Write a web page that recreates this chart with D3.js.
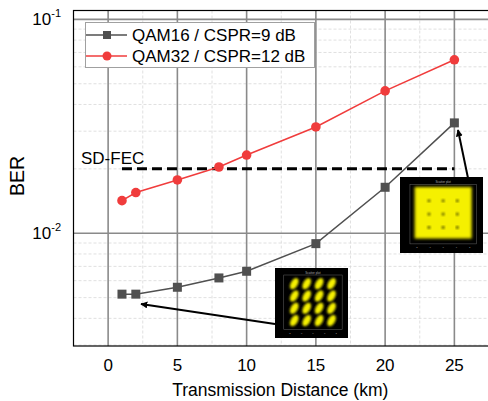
<!DOCTYPE html>
<html>
<head>
<meta charset="utf-8">
<script src="https://cdn.jsdelivr.net/npm/d3@7"></script>
<style>
  body { margin: 0; background: #fff; }
  svg { display: block; font-family: Arial, "Liberation Sans", sans-serif; }
</style>
</head>
<body>
<div id="chart"></div>
<script>
// distances (km)
const distances = [1, 2, 5, 8, 10, 15, 20, 25];
// BER values
const berQam16 = [0.00519, 0.00519, 0.00559, 0.00618, 0.00664, 0.00894, 0.0164, 0.0328];
const berQam32 = [0.0142, 0.0155, 0.01775, 0.0204, 0.0232, 0.0314, 0.0463, 0.0647];
const seriesNames = ['QAM16 / CSPR=9 dB', 'QAM32 / CSPR=12 dB'];
const xTicks = [0, 5, 10, 15, 20, 25];
const fecLevel = 0.02;
const fecRange = [1, 25];

const width = 488, height = 401;
const margin = { left: 73.5, top: 10.5, right: -1, bottom: 55 };

const svg = d3.select('#chart').append('svg')
    .attr('width', width)
    .attr('height', height);

const x = d3.scaleLinear()
    .domain([-2.5, 27.5])
    .range([margin.left, width - margin.right]);

const y = d3.scaleLog()
    .domain([0.00297, 0.11])
    .range([height - margin.bottom, margin.top]);

const plotTop = margin.top, plotBottom = height - margin.bottom;

// minor grid (dashed)
const minorX = d3.range(-2.5, 28, 5);
svg.append('g')
    .selectAll('line')
    .data(minorX)
    .join('line')
    .attr('x1', d => x(d)).attr('x2', d => x(d))
    .attr('y1', plotTop).attr('y2', plotBottom)
    .attr('stroke', '#d8d8d8')
    .attr('stroke-dasharray', '3,2')
    .attr('stroke-width', 0.8);

const minorY = [3, 4, 5, 6, 7, 8, 9].map(d => d * 1e-3)
    .concat([2, 3, 4, 5, 6, 7, 8, 9].map(d => d * 1e-2));
svg.append('g')
    .selectAll('line')
    .data(minorY)
    .join('line')
    .attr('x1', margin.left).attr('x2', width)
    .attr('y1', d => y(d)).attr('y2', d => y(d))
    .attr('stroke', '#d8d8d8')
    .attr('stroke-dasharray', '3,2')
    .attr('stroke-width', 0.8);

// major grid
svg.append('g')
    .selectAll('line')
    .data(xTicks)
    .join('line')
    .attr('x1', d => x(d)).attr('x2', d => x(d))
    .attr('y1', plotTop).attr('y2', plotBottom)
    .attr('stroke', '#8a8a8a')
    .attr('stroke-width', 1.6);

svg.append('g')
    .selectAll('line')
    .data([0.01, 0.1])
    .join('line')
    .attr('x1', margin.left).attr('x2', width)
    .attr('y1', d => y(d)).attr('y2', d => y(d))
    .attr('stroke', '#8a8a8a')
    .attr('stroke-width', 1.6);

// frame
svg.append('rect')
    .attr('x', margin.left).attr('y', plotTop)
    .attr('width', x.range()[1] - margin.left)
    .attr('height', plotBottom - plotTop)
    .attr('fill', 'none')
    .attr('stroke', '#000')
    .attr('stroke-width', 1.2);

// x tick labels
svg.append('g')
    .selectAll('text')
    .data(xTicks)
    .join('text')
    .attr('x', d => x(d))
    .attr('y', 371)
    .attr('text-anchor', 'middle')
    .style('font-size', '17px')
    .text(d => d);

// y tick labels 10^-1, 10^-2
const yLab = svg.append('g')
    .selectAll('text')
    .data([0.1, 0.01])
    .join('text')
    .attr('x', 61)
    .attr('y', d => y(d) + 6)
    .attr('text-anchor', 'end')
    .style('font-size', '17px');
yLab.append('tspan').text('10');
yLab.append('tspan')
    .attr('dy', -8)
    .style('font-size', '11px')
    .text(d => Math.round(Math.log10(d)));

// axis titles
svg.append('text')
    .attr('x', x(12.5) - 1)
    .attr('y', 396)
    .attr('text-anchor', 'middle')
    .style('font-size', '17.5px')
    .text('Transmission Distance (km)');

svg.append('text')
    .attr('transform', 'translate(24, 176) rotate(-90)')
    .attr('text-anchor', 'middle')
    .style('font-size', '19.5px')
    .text('BER');

// SD-FEC threshold
svg.append('line')
    .attr('x1', x(fecRange[0])).attr('x2', x(fecRange[1]))
    .attr('y1', y(fecLevel)).attr('y2', y(fecLevel))
    .attr('stroke', '#000')
    .attr('stroke-width', 3)
    .attr('stroke-dasharray', '10,5');

svg.append('text')
    .attr('x', 81)
    .attr('y', 164)
    .style('font-size', '17px')
    .text('SD-FEC');

// series
const line = d3.line()
    .x(d => x(d[0]))
    .y(d => y(d[1]));

const gray = '#505050', red = '#f03c3c';

svg.append('path')
    .datum(d3.zip(distances, berQam16))
    .attr('fill', 'none')
    .attr('stroke', gray)
    .attr('stroke-width', 1.5)
    .attr('d', line);

svg.append('g')
    .selectAll('rect')
    .data(d3.zip(distances, berQam16))
    .join('rect')
    .attr('x', d => x(d[0]) - 4.5)
    .attr('y', d => y(d[1]) - 4.5)
    .attr('width', 9).attr('height', 9)
    .attr('fill', gray);

svg.append('path')
    .datum(d3.zip(distances, berQam32))
    .attr('fill', 'none')
    .attr('stroke', red)
    .attr('stroke-width', 1.5)
    .attr('d', line);

svg.append('g')
    .selectAll('circle')
    .data(d3.zip(distances, berQam32))
    .join('circle')
    .attr('cx', d => x(d[0]))
    .attr('cy', d => y(d[1]))
    .attr('r', 4.8)
    .attr('fill', red);

// legend
const legend = svg.append('g');
legend.append('rect')
    .attr('x', 85.5).attr('y', 22.5)
    .attr('width', 229).attr('height', 45)
    .attr('fill', '#fff')
    .attr('stroke', '#a0a0a0');

[gray, red].forEach((c, i) => {
    const ly = 35 + i * 21;
    legend.append('line')
        .attr('x1', 86).attr('x2', 127)
        .attr('y1', ly).attr('y2', ly)
        .attr('stroke', c).attr('stroke-width', 1.5);
    if (i === 0) {
        legend.append('rect')
            .attr('x', 107 - 4).attr('y', ly - 4)
            .attr('width', 8).attr('height', 8)
            .attr('fill', c);
    } else {
        legend.append('circle')
            .attr('cx', 107).attr('cy', ly).attr('r', 4.5)
            .attr('fill', c);
    }
    legend.append('text')
        .attr('x', 132).attr('y', ly + 6)
        .style('font-size', '17px')
        .text(seriesNames[i]);
});

// arrows
const defs = svg.append('defs');
defs.append('marker')
    .attr('id', 'arrow')
    .attr('viewBox', '0 0 10 10')
    .attr('refX', 9).attr('refY', 5)
    .attr('markerWidth', 7).attr('markerHeight', 7)
    .attr('markerUnits', 'userSpaceOnUse')
    .attr('orient', 'auto')
    .append('path')
    .attr('d', 'M0,0 L10,5 L0,10 Z')
    .attr('fill', '#000');

defs.append('filter')
    .attr('id', 'blur').attr('x', '-20%').attr('y', '-20%')
    .attr('width', '140%').attr('height', '140%')
    .append('feGaussianBlur').attr('stdDeviation', 0.9);

defs.append('filter')
    .attr('id', 'blur2').attr('x', '-20%').attr('y', '-20%')
    .attr('width', '140%').attr('height', '140%')
    .append('feGaussianBlur').attr('stdDeviation', 1.6);

svg.append('line')
    .attr('x1', 275).attr('y1', 324)
    .attr('x2', 141).attr('y2', 304)
    .attr('stroke', '#000').attr('stroke-width', 2)
    .attr('marker-end', 'url(#arrow)');
svg.append('line')
    .attr('x1', 468).attr('y1', 178)
    .attr('x2', 458).attr('y2', 130)
    .attr('stroke', '#000').attr('stroke-width', 2)
    .attr('marker-end', 'url(#arrow)');

// constellation insets
function inset(x0, y0, w, h, noisy) {
    const g = svg.append('g').attr('transform', `translate(${x0},${y0})`);
    g.append('rect').attr('width', w).attr('height', h).attr('fill', '#000');
    const fx = w * 0.12, fy = h * 0.1, fw = w * 0.8, fh = h * 0.78;
    g.append('rect')
        .attr('x', fx).attr('y', fy).attr('width', fw).attr('height', fh)
        .attr('fill', 'none').attr('stroke', '#666').attr('stroke-width', 0.5);
    g.append('text')
        .attr('x', fx + fw / 2).attr('y', fy - 1.5)
        .attr('text-anchor', 'middle')
        .attr('fill', '#aaa').style('font-size', '3px')
        .text('Scatter plot');
    const inner = g.append('g');
    const cx = i => fx + fw * (0.18 + i * 0.213);
    const cy = j => fy + fh * (0.16 + j * 0.225);
    if (!noisy) {
        for (let i = 0; i < 4; i++) for (let j = 0; j < 4; j++) {
            inner.append('ellipse')
                .attr('transform', `translate(${cx(i)},${cy(j)}) rotate(-60)`)
                .attr('rx', 6.2).attr('ry', 3.4)
                .attr('fill', '#f5f000')
                .attr('filter', 'url(#blur)');
        }
    } else {
        inner.append('rect')
            .attr('x', fx + fw * 0.07).attr('y', fy + fh * 0.04)
            .attr('width', fw * 0.86).attr('height', fh * 0.87)
            .attr('fill', '#f5f000')
            .attr('filter', 'url(#blur2)');
        for (let i = 0; i < 3; i++) for (let j = 0; j < 3; j++) {
            inner.append('circle')
                .attr('cx', (cx(i) + cx(i + 1)) / 2)
                .attr('cy', (cy(j) + cy(j + 1)) / 2)
                .attr('r', 1.6)
                .attr('fill', '#6a6a00')
                .attr('filter', 'url(#blur)');
        }
    }
    // tiny axis ticks
    for (let k = 0; k < 5; k++) {
        g.append('text')
            .attr('x', fx + fw * (0.1 + k * 0.2)).attr('y', fy + fh + 4)
            .attr('text-anchor', 'middle')
            .attr('fill', '#999').style('font-size', '2.5px')
            .text(k - 2);
    }
}
inset(275, 268, 73, 70, false);
inset(400, 177, 83, 76, true);
</script>
</body>
</html>
